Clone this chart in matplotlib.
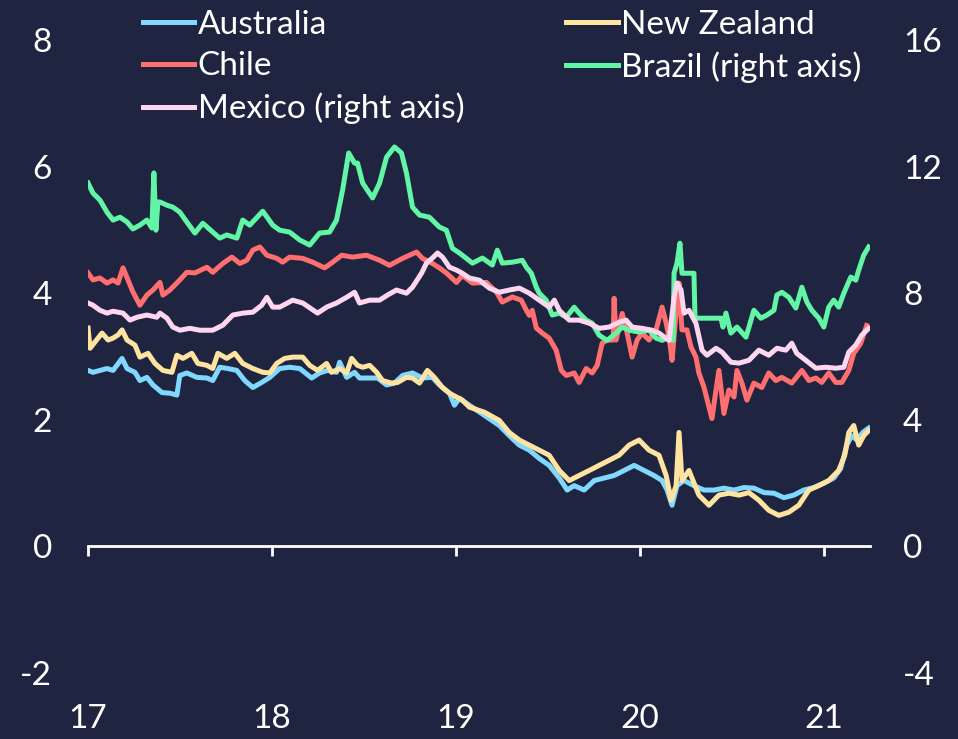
import matplotlib
matplotlib.use("Agg")
import matplotlib.pyplot as plt

plt.rcParams['font.family'] = ['Lato', 'DejaVu Sans']
plt.rcParams['axes.unicode_minus'] = False

BG = "#1f2440"

# --- data (decimal years, values) ---
aus_x = [17.000, 17.027, 17.065, 17.103, 17.136, 17.185, 17.212, 17.255, 17.282, 17.320,
         17.353, 17.402, 17.445, 17.483, 17.499, 17.537, 17.592, 17.646, 17.678, 17.716,
         17.760, 17.809, 17.852, 17.896, 17.944, 17.988, 18.042, 18.096, 18.151, 18.216,
         18.259, 18.303, 18.351, 18.368, 18.406, 18.449, 18.476, 18.531, 18.574, 18.623,
         18.666, 18.710, 18.764, 18.818, 18.872, 18.910, 18.965, 18.992, 19.019, 19.073,
         19.155, 19.236, 19.290, 19.345, 19.399, 19.453, 19.507, 19.562, 19.605, 19.643,
         19.697, 19.752, 19.806, 19.860, 19.915, 19.969, 20.023, 20.077, 20.121, 20.148,
         20.175, 20.202, 20.240, 20.294, 20.349, 20.403, 20.457, 20.512, 20.566, 20.620,
         20.675, 20.729, 20.783, 20.837, 20.891, 20.946, 21.000, 21.054, 21.092, 21.125,
         21.152, 21.179, 21.212, 21.244]
aus_y = [2.78, 2.75, 2.78, 2.81, 2.78, 2.97, 2.81, 2.75, 2.62, 2.67,
         2.55, 2.43, 2.42, 2.39, 2.70, 2.74, 2.67, 2.66, 2.62, 2.83,
         2.81, 2.78, 2.62, 2.51, 2.59, 2.67, 2.81, 2.83, 2.81, 2.66,
         2.74, 2.78, 2.75, 2.91, 2.67, 2.75, 2.66, 2.66, 2.66, 2.55,
         2.58, 2.70, 2.74, 2.66, 2.67, 2.55, 2.42, 2.23, 2.34, 2.23,
         2.07, 1.91, 1.75, 1.60, 1.52, 1.39, 1.28, 1.08, 0.89, 0.96,
         0.89, 1.04, 1.08, 1.12, 1.20, 1.28, 1.20, 1.12, 1.04, 0.89,
         0.65, 0.96, 1.04, 0.96, 0.89, 0.89, 0.92, 0.89, 0.93, 0.92,
         0.85, 0.84, 0.77, 0.81, 0.89, 0.93, 1.00, 1.08, 1.23, 1.60,
         1.75, 1.68, 1.80, 1.87]

nz_x = [17.000, 17.011, 17.038, 17.076, 17.109, 17.136, 17.163, 17.185, 17.212, 17.255,
        17.282, 17.326, 17.364, 17.407, 17.456, 17.483, 17.516, 17.564, 17.597, 17.646,
        17.678, 17.706, 17.754, 17.798, 17.841, 17.896, 17.950, 17.988, 18.026, 18.069,
        18.113, 18.167, 18.205, 18.248, 18.297, 18.324, 18.368, 18.406, 18.433, 18.465,
        18.493, 18.531, 18.569, 18.601, 18.650, 18.683, 18.731, 18.764, 18.802, 18.845,
        18.883, 18.927, 18.965, 19.003, 19.035, 19.073, 19.155, 19.236, 19.290, 19.345,
        19.399, 19.453, 19.507, 19.562, 19.616, 19.670, 19.725, 19.779, 19.833, 19.887,
        19.942, 19.996, 20.050, 20.104, 20.143, 20.170, 20.197, 20.213, 20.229, 20.267,
        20.321, 20.376, 20.430, 20.484, 20.539, 20.593, 20.647, 20.701, 20.755, 20.810,
        20.864, 20.919, 20.973, 21.027, 21.081, 21.114, 21.136, 21.163, 21.190, 21.217,
        21.244]
nz_y = [3.45, 3.13, 3.23, 3.37, 3.26, 3.29, 3.34, 3.42, 3.26, 3.18,
        2.99, 3.05, 2.89, 2.78, 2.75, 3.02, 2.97, 3.05, 2.89, 2.86,
        2.81, 3.05, 2.97, 3.05, 2.89, 2.81, 2.75, 2.74, 2.89, 2.97,
        2.99, 2.99, 2.86, 2.78, 2.89, 2.75, 2.81, 2.74, 2.97, 2.86,
        2.83, 2.86, 2.75, 2.62, 2.58, 2.59, 2.67, 2.66, 2.58, 2.78,
        2.67, 2.51, 2.42, 2.36, 2.31, 2.20, 2.12, 1.99, 1.80, 1.68,
        1.60, 1.52, 1.44, 1.20, 1.04, 1.12, 1.20, 1.28, 1.36, 1.44,
        1.60, 1.68, 1.52, 1.44, 1.12, 0.73, 0.96, 1.80, 1.04, 1.20,
        0.81, 0.65, 0.81, 0.84, 0.81, 0.85, 0.73, 0.57, 0.49, 0.54,
        0.65, 0.89, 0.96, 1.04, 1.20, 1.44, 1.80, 1.91, 1.60, 1.75,
        1.83]

chile_x = [17.000, 17.027, 17.065, 17.103, 17.136, 17.163, 17.190, 17.217, 17.244, 17.282,
           17.320, 17.353, 17.391, 17.407, 17.445, 17.499, 17.537, 17.581, 17.646, 17.678,
           17.733, 17.782, 17.825, 17.863, 17.896, 17.934, 17.972, 18.026, 18.058, 18.096,
           18.167, 18.221, 18.286, 18.330, 18.379, 18.438, 18.514, 18.585, 18.639, 18.710,
           18.786, 18.818, 18.872, 18.910, 18.948, 19.003, 19.035, 19.090, 19.166, 19.220,
           19.252, 19.307, 19.355, 19.383, 19.399, 19.415, 19.437, 19.469, 19.507, 19.545,
           19.573, 19.600, 19.643, 19.670, 19.708, 19.741, 19.768, 19.795, 19.822, 19.855,
           19.860, 19.871, 19.904, 19.931, 19.958, 19.985, 20.012, 20.050, 20.088, 20.121,
           20.143, 20.159, 20.175, 20.197, 20.213, 20.229, 20.256, 20.278, 20.305, 20.321,
           20.349, 20.376, 20.392, 20.414, 20.430, 20.457, 20.484, 20.512, 20.528, 20.555,
           20.582, 20.620, 20.663, 20.701, 20.739, 20.772, 20.826, 20.881, 20.919, 20.957,
           20.989, 21.027, 21.065, 21.098, 21.136, 21.163, 21.201, 21.233]
chile_y = [4.32, 4.21, 4.24, 4.16, 4.21, 4.16, 4.40, 4.21, 4.02, 3.81,
           3.97, 4.05, 4.17, 3.97, 4.05, 4.21, 4.33, 4.32, 4.41, 4.33,
           4.47, 4.57, 4.47, 4.52, 4.68, 4.73, 4.60, 4.55, 4.49, 4.57,
           4.55, 4.49, 4.40, 4.49, 4.60, 4.57, 4.60, 4.52, 4.44, 4.55,
           4.65, 4.55, 4.47, 4.40, 4.32, 4.17, 4.28, 4.16, 4.17, 4.02,
           3.86, 3.94, 3.89, 3.73, 3.65, 3.73, 3.45, 3.37, 3.29, 3.10,
           2.78, 2.70, 2.74, 2.59, 2.81, 2.74, 2.86, 3.21, 3.26, 3.26,
           3.92, 3.26, 3.68, 3.37, 2.99, 3.26, 3.37, 3.26, 3.42, 3.78,
           3.53, 3.30, 2.94, 3.68, 4.16, 3.42, 3.42, 3.15, 2.99, 2.74,
           2.51, 2.20, 2.02, 2.47, 2.78, 2.10, 2.47, 2.36, 2.78, 2.58,
           2.31, 2.58, 2.51, 2.74, 2.62, 2.67, 2.58, 2.78, 2.62, 2.66,
           2.59, 2.74, 2.59, 2.59, 2.78, 3.05, 3.21, 3.49]

brazil_x = [17.000, 17.027, 17.065, 17.103, 17.136, 17.174, 17.212, 17.244, 17.282, 17.320,
            17.347, 17.358, 17.369, 17.380, 17.391, 17.429, 17.461, 17.499, 17.537, 17.581,
            17.624, 17.678, 17.716, 17.754, 17.809, 17.841, 17.879, 17.950, 18.004, 18.042,
            18.096, 18.151, 18.205, 18.259, 18.313, 18.351, 18.384, 18.417, 18.449, 18.465,
            18.493, 18.547, 18.585, 18.623, 18.666, 18.704, 18.731, 18.764, 18.802, 18.856,
            18.910, 18.948, 18.981, 19.019, 19.090, 19.144, 19.198, 19.225, 19.252, 19.307,
            19.361, 19.383, 19.410, 19.437, 19.453, 19.491, 19.524, 19.562, 19.600, 19.643,
            19.670, 19.708, 19.741, 19.779, 19.822, 19.871, 19.904, 19.942, 19.996, 20.050,
            20.088, 20.121, 20.159, 20.181, 20.186, 20.202, 20.218, 20.229, 20.294, 20.300,
            20.441, 20.452, 20.468, 20.495, 20.528, 20.577, 20.620, 20.658, 20.691, 20.729,
            20.745, 20.772, 20.810, 20.848, 20.881, 20.908, 20.935, 20.973, 21.000, 21.027,
            21.054, 21.081, 21.109, 21.147, 21.174, 21.190, 21.217, 21.244]
brazil_y = [11.48, 11.16, 10.94, 10.56, 10.31, 10.40, 10.25, 10.03, 10.15, 10.31,
            10.06, 11.80, 9.99, 10.88, 10.88, 10.78, 10.72, 10.56, 10.25, 9.90,
            10.21, 9.93, 9.74, 9.84, 9.74, 10.31, 10.15, 10.59, 10.15, 9.99,
            9.93, 9.68, 9.52, 9.90, 9.93, 10.31, 11.26, 12.43, 12.11, 12.11,
            11.48, 11.01, 11.48, 12.30, 12.62, 12.43, 11.80, 10.72, 10.47, 10.40,
            10.09, 9.99, 9.42, 9.27, 8.95, 9.11, 8.89, 9.36, 8.95, 8.98,
            9.04, 8.82, 8.63, 8.19, 8.00, 7.78, 7.31, 7.37, 7.24, 7.56,
            7.37, 7.15, 7.05, 6.67, 6.51, 6.74, 6.93, 6.83, 6.77, 6.83,
            6.58, 6.51, 6.61, 6.51, 8.63, 8.95, 9.58, 8.63, 8.63, 7.21,
            7.21, 6.93, 7.37, 6.74, 6.93, 6.61, 7.46, 7.21, 7.31, 7.46,
            7.94, 8.03, 7.87, 7.53, 8.19, 7.72, 7.46, 7.21, 6.93, 7.56,
            7.78, 7.56, 8.00, 8.51, 8.41, 8.73, 9.20, 9.46]

mexico_x = [17.000, 17.027, 17.065, 17.103, 17.136, 17.190, 17.228, 17.266, 17.320, 17.374,
            17.391, 17.429, 17.461, 17.499, 17.554, 17.608, 17.678, 17.733, 17.787, 17.841,
            17.896, 17.944, 17.972, 18.004, 18.042, 18.113, 18.167, 18.248, 18.297, 18.351,
            18.406, 18.449, 18.476, 18.531, 18.585, 18.628, 18.677, 18.731, 18.764, 18.813,
            18.840, 18.872, 18.900, 18.927, 18.965, 19.003, 19.035, 19.073, 19.128, 19.182,
            19.236, 19.290, 19.345, 19.399, 19.453, 19.507, 19.535, 19.562, 19.616, 19.670,
            19.725, 19.779, 19.833, 19.887, 19.925, 19.958, 20.012, 20.066, 20.104, 20.159,
            20.186, 20.202, 20.224, 20.240, 20.267, 20.305, 20.338, 20.365, 20.414, 20.446,
            20.495, 20.539, 20.593, 20.647, 20.701, 20.745, 20.794, 20.826, 20.853, 20.902,
            20.957, 21.011, 21.065, 21.109, 21.136, 21.174, 21.206, 21.244]
mexico_y = [7.69, 7.62, 7.46, 7.37, 7.43, 7.37, 7.15, 7.24, 7.31, 7.24,
            7.37, 7.21, 6.93, 6.83, 6.89, 6.83, 6.83, 6.99, 7.31, 7.37,
            7.40, 7.62, 7.87, 7.56, 7.56, 7.78, 7.69, 7.37, 7.56, 7.69,
            7.87, 8.03, 7.69, 7.78, 7.78, 7.94, 8.10, 8.00, 8.19, 8.63,
            8.95, 9.11, 9.27, 9.14, 8.82, 8.73, 8.63, 8.48, 8.41, 8.16,
            8.03, 8.10, 8.16, 8.00, 7.78, 7.56, 7.78, 7.46, 7.15, 7.15,
            7.05, 6.89, 6.93, 7.08, 7.15, 6.93, 6.89, 6.83, 6.74, 6.51,
            7.87, 8.32, 8.10, 7.37, 7.46, 7.05, 6.20, 6.04, 6.26, 6.14,
            5.82, 5.79, 5.88, 6.20, 6.04, 6.26, 6.20, 6.42, 6.10, 5.88,
            5.63, 5.66, 5.63, 5.66, 6.14, 6.36, 6.67, 6.89]

years = [17, 18, 19, 20, 21]
left_ticks = [-2, 0, 2, 4, 6, 8]
right_ticks = [-4, 0, 4, 8, 12, 16]

C_AUS = "#80d8ff"
C_NZ = "#ffe3a0"
C_CHL = "#ff6f6f"
C_BRA = "#62f5a5"
C_MEX = "#ffd6f0"

fig = plt.figure(figsize=(9.58, 7.39), dpi=100, facecolor=BG)
ax = fig.add_axes([0.0919, 0.0893, 0.816, 0.8566])
ax.set_facecolor(BG)
ax2 = ax.twinx()

lw = 3.6
l_aus, = ax.plot(aus_x, aus_y, color=C_AUS, lw=lw, label="Australia")
l_nz, = ax.plot(nz_x, nz_y, color=C_NZ, lw=lw, label="New Zealand")
l_chl, = ax.plot(chile_x, chile_y, color=C_CHL, lw=lw, label="Chile")
l_bra, = ax2.plot(brazil_x, brazil_y, color=C_BRA, lw=lw, label="Brazil (right axis)")
l_mex, = ax2.plot(mexico_x, mexico_y, color=C_MEX, lw=lw, label="Mexico (right axis)")

ax.set_xlim(17, 21.25)
ax.set_ylim(-2, 8)
ax2.set_ylim(-4, 16)

for s in ["top", "left", "right"]:
    ax.spines[s].set_visible(False)
for s in ax2.spines.values():
    s.set_visible(False)
ax.spines["bottom"].set_position(("data", 0))
ax.spines["bottom"].set_color("white")
ax.spines["bottom"].set_linewidth(2)

FS = 24
ax.set_xticks(years)
ax.tick_params(axis="x", direction="out", length=7, width=2, color="white", labelbottom=False)
ax.set_yticks(left_ticks)
ax.tick_params(axis="y", length=0, pad=26, labelcolor="white", labelsize=FS)
ax2.set_yticks(right_ticks)
ax2.tick_params(axis="y", length=0, pad=24, labelcolor="white", labelsize=FS)

sec = ax.secondary_xaxis(0)
sec.set_xticks(years)
sec.spines["bottom"].set_visible(False)
sec.tick_params(length=0, pad=22, labelcolor="white", labelsize=FS)

handles = [l_aus, l_chl, l_mex, l_nz, l_bra]
fig.legend(handles, [h.get_label() for h in handles], ncol=2, loc="upper left",
           bbox_to_anchor=(0.1245, 1.018), frameon=False, fontsize=FS,
           labelcolor="white", handlelength=1.55, handletextpad=0.1,
           columnspacing=3.05, labelspacing=0.34, borderpad=0.2)

fig.savefig("out.png", dpi=100, facecolor=BG)
